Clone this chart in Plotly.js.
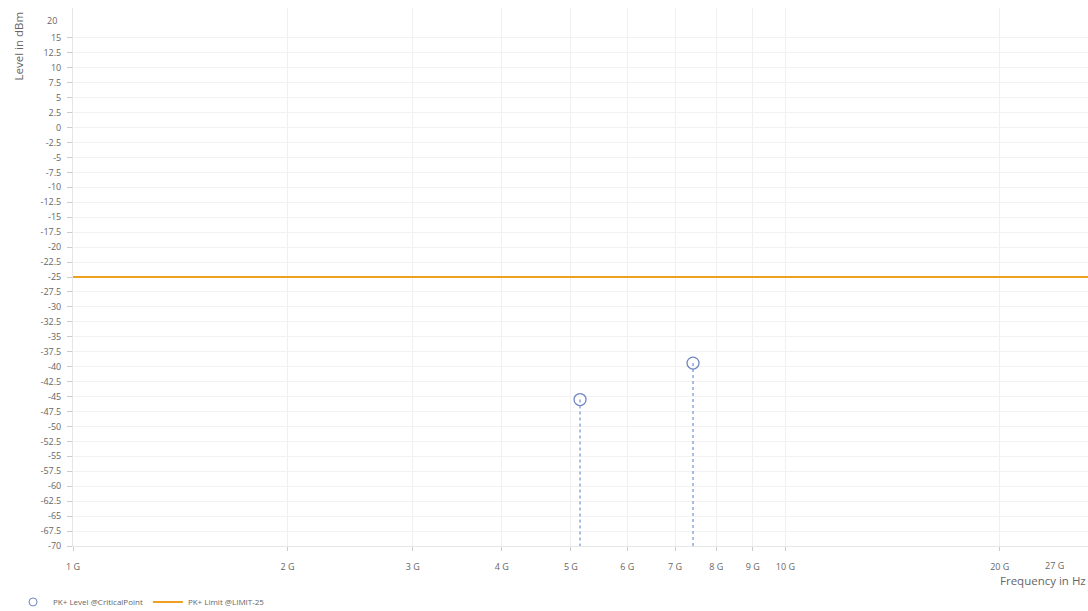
<!DOCTYPE html>
<html><head><meta charset="utf-8">
<script src="https://cdn.plot.ly/plotly-3.0.1.min.js"></script>
<style>html,body{margin:0;padding:0;background:#fff}#c{width:1088px;height:611px}</style>
</head><body><div id="c"></div>
<script>
const levelFreq = [5.15e9, 7.42e9];
const levelVals = [-45.5, -39.4];
const limitFreq = [1e9, 27e9];
const limitVals = [-25, -25];
const floorLevel = -70;
const xTickVals = [1e9,2e9,3e9,4e9,5e9,6e9,7e9,8e9,9e9,10e9,20e9];
const xTickText = ['1 G','2 G','3 G','4 G','5 G','6 G','7 G','8 G','9 G','10 G','20 G'];
const yTickVals = [15,12.5,10,7.5,5,2.5,0,-2.5,-5,-7.5,-10,-12.5,-15,-17.5,-20,-22.5,-25,-27.5,-30,-32.5,-35,-37.5,-40,-42.5,-45,-47.5,-50,-52.5,-55,-57.5,-60,-62.5,-65,-67.5,-70];
const yTickText = yTickVals.map(v => String(v));

const stemX = [], stemY = [];
levelFreq.forEach((f,i)=>{ stemX.push(f,f,null); stemY.push(levelVals[i], floorLevel, null); });

const tickFont = {family:'Open Sans, sans-serif', size:9, color:'#666'};
const levelColor = '#6f86c0';
const data = [
  {x: stemX, y: stemY, mode:'lines', line:{color:'#7b9bd6', width:1.3, dash:'dot'}, showlegend:false, hoverinfo:'skip'},
  {x: limitFreq, y: limitVals, mode:'lines', name:'PK+ Limit @LIMIT-25', line:{color:'#f0a020', width:2}, legendrank:2},
  {x: levelFreq, y: levelVals, mode:'markers', showlegend:false,
   marker:{symbol:'circle-open', size:12, color:levelColor, line:{width:1.3, color:levelColor}}},
  {x: [null], y: [null], mode:'markers', name:'PK+ Level @CriticalPoint', legendrank:1,
   marker:{symbol:'circle-open', size:8, color:levelColor, line:{width:1, color:levelColor}}},
];
const layout = {
  width:1088, height:611,
  margin:{l:73, r:0, t:8, b:65, autoexpand:false},
  paper_bgcolor:'#fff', plot_bgcolor:'#fff',
  showlegend:true,
  legend:{orientation:'h', xref:'container', yref:'paper', x:0.012, y:-0.104, yanchor:'middle',
    font:{family:'Open Sans, sans-serif', size:8, color:'#666'}, itemwidth:30, tracegroupgap:0},
  xaxis:{type:'log', range:[9, Math.log10(26.6e9)], tickvals:xTickVals, ticktext:xTickText,
    tickfont:tickFont, showgrid:true, gridcolor:'#f0f0f0', zeroline:false, ticklabelstandoff:8,
    ticks:'outside', ticklen:4, tickcolor:'#ccc', showline:true, linecolor:'#e6e6e6', linewidth:1},
  yaxis:{range:[-70,20], tickvals:yTickVals, ticktext:yTickText, tickfont:tickFont, showgrid:true, gridcolor:'#f2f2f2', zeroline:false,
    ticks:'outside', ticklen:5, tickcolor:'#ccc', showline:true, linecolor:'#e6e6e6', linewidth:1, ticklabelstandoff:4},
  annotations:[
    {text:'20', xref:'paper', yref:'paper', x:0, y:1, yanchor:'top', xanchor:'right', xshift:-14, yshift:-4, showarrow:false, font:tickFont},
    {text:'27 G', xref:'paper', yref:'paper', x:1, y:0, yanchor:'top', xanchor:'right', yshift:-11, xshift:-22, showarrow:false, font:tickFont},
    {text:'Frequency in Hz', xref:'paper', yref:'paper', x:1, y:0, yanchor:'top', xanchor:'right', yshift:-25, showarrow:false, font:{family:'Open Sans, sans-serif', size:11.5, color:'#666'}},
    {text:'Level in dBm', xref:'paper', yref:'paper', x:0, y:1, xanchor:'center', yanchor:'top', xshift:-55, yshift:-2, textangle:-90, showarrow:false, font:{family:'Open Sans, sans-serif', size:11.5, color:'#666'}}
  ]
};
Plotly.newPlot('c', data, layout, {displayModeBar:false, staticPlot:true});
</script></body></html>
